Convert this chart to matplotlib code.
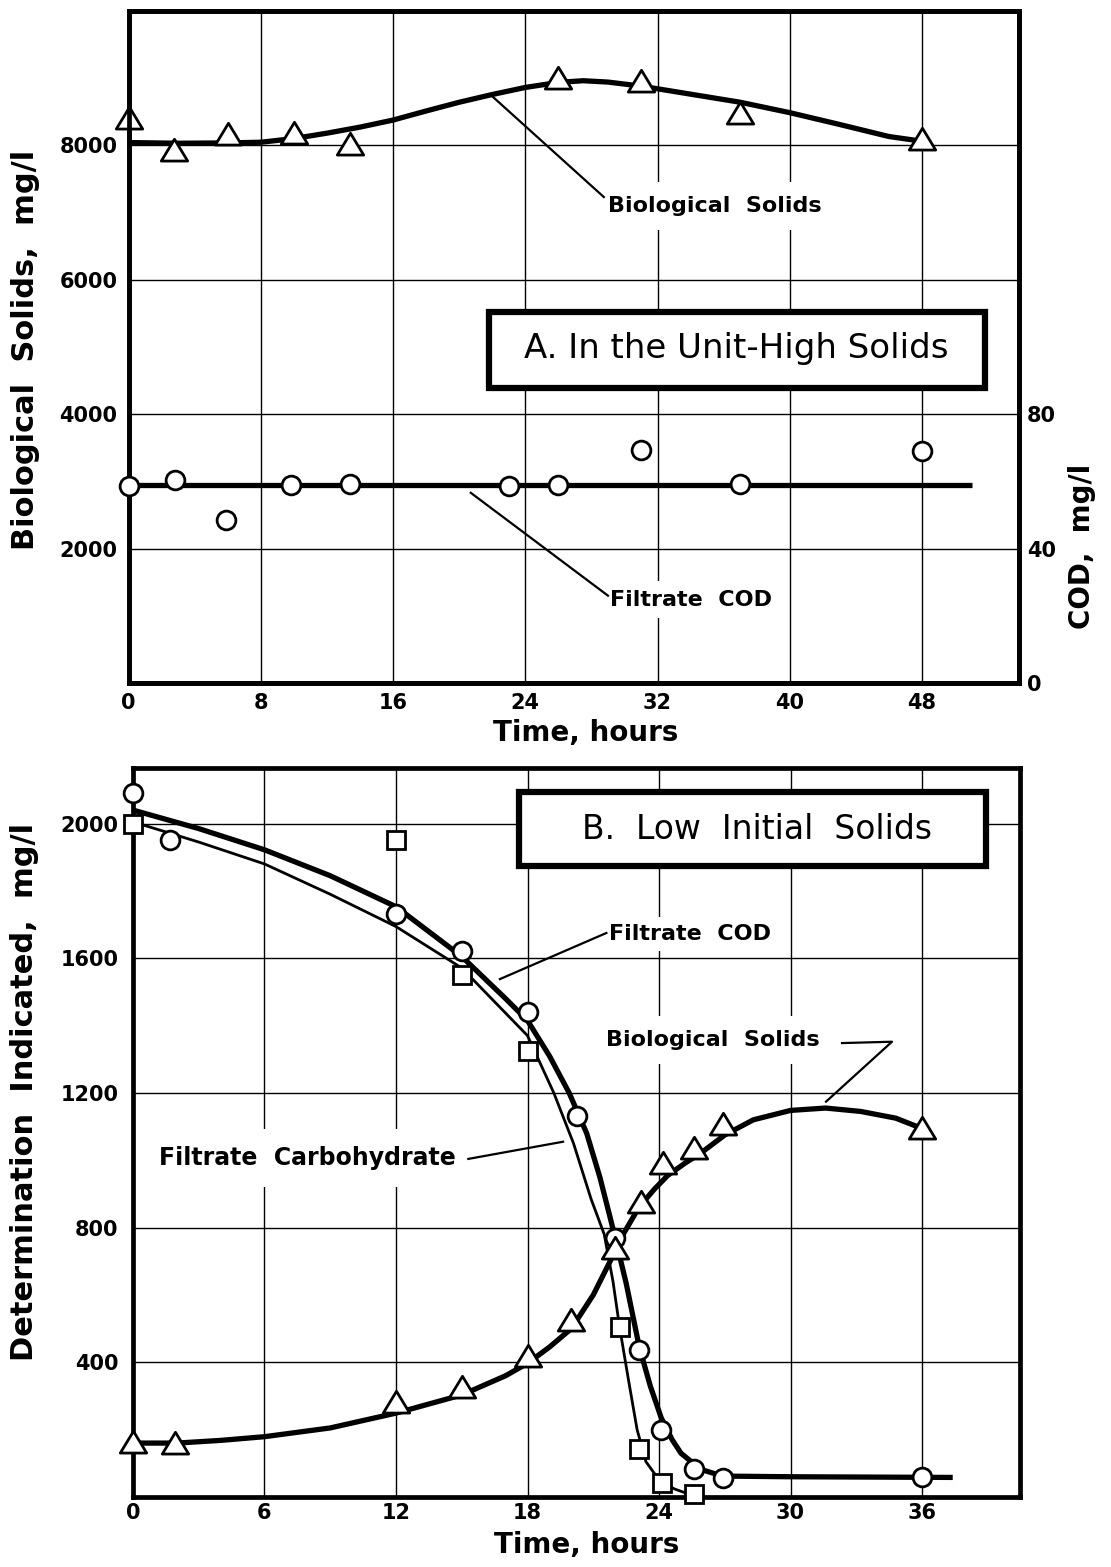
import matplotlib
matplotlib.use("Agg")
import matplotlib.pyplot as plt
from matplotlib.patches import Rectangle
from matplotlib.path import Path

# A. In the unit - high solids (time in hours)
a_solids_t = [0, 2.75, 6, 10, 13.4, 26, 31, 37, 48]
a_solids = [8400, 7930, 8170, 8180, 8020, 9000, 8950, 8480, 8100]
# hand drawn smooth curve
a_solids_curve_t = [0, 3, 6, 8, 10, 12, 14, 16, 18, 20, 22, 24, 26, 27.5, 29, 31, 33, 35, 37, 40, 43, 46, 48]
a_solids_curve = [8040, 8030, 8035, 8045, 8100, 8180, 8270, 8375, 8510, 8640, 8755, 8860, 8935,
                  8960, 8940, 8880, 8800, 8720, 8640, 8485, 8310, 8130, 8060]
a_cod_t = [0, 2.8, 5.9, 9.8, 13.4, 23, 26, 31, 37, 48]
a_cod = [58.5, 60.5, 48.5, 59, 59.2, 58.7, 59, 69.2, 59.2, 69.1]
a_cod_line_t = [0, 51]
a_cod_line = [58.8, 58.8]

# B. Low initial solids
b_cod_t = [0, 1.7, 12, 15, 18, 20.25, 22, 23.1, 24.1, 25.6, 26.9, 36]
b_cod = [2090, 1950, 1730, 1620, 1440, 1130, 770, 437, 200, 82, 56, 60]
b_cod_curve_t = [0, 3, 6, 9, 12, 15, 17, 18, 19, 19.9, 20.7, 21.3, 21.75, 22, 22.5, 23.1, 23.6,
                 24.1, 24.6, 25, 25.9, 26.9, 30, 37.4]
b_cod_curve = [2040, 1985, 1922, 1845, 1753, 1605, 1480, 1415, 1310, 1200, 1080, 950, 835, 770,
               635, 445, 330, 235, 170, 130, 82, 62, 60, 58]

b_carb_t = [0, 12, 15, 18, 22.2, 23.1, 24.15, 25.6]
b_carb = [2000, 1950, 1550, 1325, 505, 142, 42, 9]
b_carb_curve_t = [0, 3, 6, 9, 12, 15, 18, 19.2, 20.1, 20.9, 21.5, 21.9, 22.2, 22.6, 23.0, 23.4,
                  23.9, 24.15, 24.7, 25.2, 25.6]
b_carb_curve = [2005, 1945, 1880, 1790, 1694, 1571, 1370, 1200, 1050, 885, 780, 640, 505, 350,
                200, 105, 60, 42, 24, 12, 5]

b_solids_t = [0, 1.9, 12, 15, 18, 20, 22, 23.2, 24.2, 25.6, 26.9, 36]
b_solids = [162, 160, 283, 326, 420, 526, 740, 877, 993, 1036, 1108, 1095]
b_solids_curve_t = [0, 2, 4, 6, 9, 12, 15, 17, 18, 19, 20, 21, 21.8, 22.4, 23.1, 23.8, 24.4, 25.2,
                    25.9, 27, 28.3, 30, 31.6, 33.2, 34.8, 35.7, 36]
b_solids_curve = [160, 160, 168, 179, 205, 249, 303, 360, 397, 445, 500, 600, 704, 784, 862, 915,
                  955, 992, 1021, 1075, 1120, 1148, 1155, 1145, 1125, 1102, 1095]

plt.rcParams['font.family'] = ['DejaVu Sans']
plt.rcParams['font.weight'] = 'bold'
plt.rcParams['axes.labelweight'] = 'bold'

# wide, closed triangle marker
TRI = Path([(-1, -0.8), (1, -0.8), (0, 0.85), (0, 0)],
           [Path.MOVETO, Path.LINETO, Path.LINETO, Path.CLOSEPOLY])
MK = dict(mfc='white', mec='black', mew=2.0, ls='none', zorder=6, clip_on=False)
SPINE_W = 3.4


def style_axes(ax, xpad, ypad):
    for s in ax.spines.values():
        s.set_linewidth(SPINE_W)
    ax.tick_params(length=0, labelsize=15)
    ax.tick_params(axis='x', pad=xpad)
    ax.tick_params(axis='y', pad=ypad)
    ax.grid(True, color='black', lw=1.0, zorder=0)
    ax.set_axisbelow(True)


def label(ax, x, y, text, pad, size=16):
    ax.text(x, y, text, fontsize=size, ha='left', va='center', zorder=3,
            bbox=dict(fc='white', ec='none', pad=pad))


def leader(ax, xs, ys):
    ax.plot(xs, ys, color='black', lw=1.6, zorder=3.5)


def title_box(ax, x0, y0, x1, y1, tx, ty, text, size):
    ax.add_patch(Rectangle((x0, y0), x1 - x0, y1 - y0, transform=ax.transAxes,
                           fc='white', ec='black', lw=4.5, zorder=4))
    ax.text(tx, ty, text, transform=ax.transAxes, fontsize=size, fontweight='normal',
            ha='center', va='center', zorder=5)


fig = plt.figure(figsize=(11.11, 15.67), dpi=100)

# ---------------- panel A ----------------
ax = fig.add_axes([0.1158, 0.5641, 0.8011, 0.4290])
style_axes(ax, 7, 8)
ax.set_xlim(0, 53.85)
ax.set_ylim(0, 10000)
ax.set_xticks([0, 8, 16, 24, 32, 40, 48])
ax.set_yticks([2000, 4000, 6000, 8000])

ax.plot(a_solids_curve_t, a_solids_curve, color='black', lw=3.8, solid_capstyle='butt', zorder=5)
ax.plot(a_solids_t, a_solids, marker=TRI, ms=19, **MK)

leader(ax, [21.9, 28.75], [8750, 7230])
label(ax, 29.0, 7100, 'Biological  Solids', 10)
leader(ax, [20.7, 29.0], [2830, 1300])
label(ax, 29.1, 1240, 'Filtrate  COD', 6)

title_box(ax, 0.405, 0.4388, 0.962, 0.5518, 0.6825, 0.498, 'A. In the Unit-High Solids', 24.5)

ax.set_xlabel('Time, hours', fontsize=20, va='center')
ax.xaxis.set_label_coords(0.513, -0.0744)
ax.set_ylabel('Biological  Solids,  mg/l', fontsize=22, va='center')
ax.yaxis.set_label_coords(-0.1164, 0.4953)

ax2 = ax.twinx()
ax2.set_ylim(0, 200)
ax2.set_yticks([0, 40, 80])
for s in ax2.spines.values():
    s.set_linewidth(SPINE_W)
ax2.tick_params(length=0, labelsize=15, pad=6)
ax2.plot(a_cod_line_t, a_cod_line, color='black', lw=3.8, solid_capstyle='butt', zorder=5)
ax2.plot(a_cod_t, a_cod, marker='o', ms=13.5, **MK)
ax2.set_ylabel('COD,  mg/l', fontsize=20, va='center')
ax2.yaxis.set_label_coords(1.0712, 0.2038)

# ---------------- panel B ----------------
bx = fig.add_axes([0.1197, 0.0447, 0.7984, 0.4652])
style_axes(bx, 4.3, 10.5)
bx.set_xlim(0, 40.47)
bx.set_ylim(0, 2165)
bx.set_xticks([0, 6, 12, 18, 24, 30, 36])
bx.set_yticks([400, 800, 1200, 1600, 2000])

bx.plot(b_cod_curve_t, b_cod_curve, color='black', lw=3.8, solid_capstyle='butt', zorder=5)
bx.plot(b_carb_curve_t, b_carb_curve, color='black', lw=2.0, zorder=5)
bx.plot(b_solids_curve_t, b_solids_curve, color='black', lw=3.8, solid_capstyle='butt', zorder=5)
bx.plot(b_carb_t, b_carb, marker='s', ms=12.5, **MK)
bx.plot(b_cod_t, b_cod, marker='o', ms=13.5, **MK)
bx.plot(b_solids_t, b_solids, marker=TRI, ms=19, **MK)

leader(bx, [16.74, 21.6], [1538, 1675])
label(bx, 21.7, 1672, 'Filtrate  COD', 5)
leader(bx, [32.35, 34.63, 31.62], [1348, 1352, 1174])
label(bx, 21.6, 1357, 'Biological  Solids', 10)
leader(bx, [15.3, 19.62], [1004, 1055])
label(bx, 1.2, 1007, 'Filtrate  Carbohydrate', 12, size=17)

title_box(bx, 0.4347, 0.8656, 0.9613, 0.9675, 0.7035, 0.915, 'B.  Low  Initial  Solids', 23.8)

bx.set_xlabel('Time, hours', fontsize=20, va='center')
bx.xaxis.set_label_coords(0.512, -0.0658)
bx.set_ylabel('Determination  Indicated,  mg/l', fontsize=22, va='center')
bx.yaxis.set_label_coords(-0.1218, 0.5556)

fig.savefig('out.png', dpi=100, facecolor='white')
